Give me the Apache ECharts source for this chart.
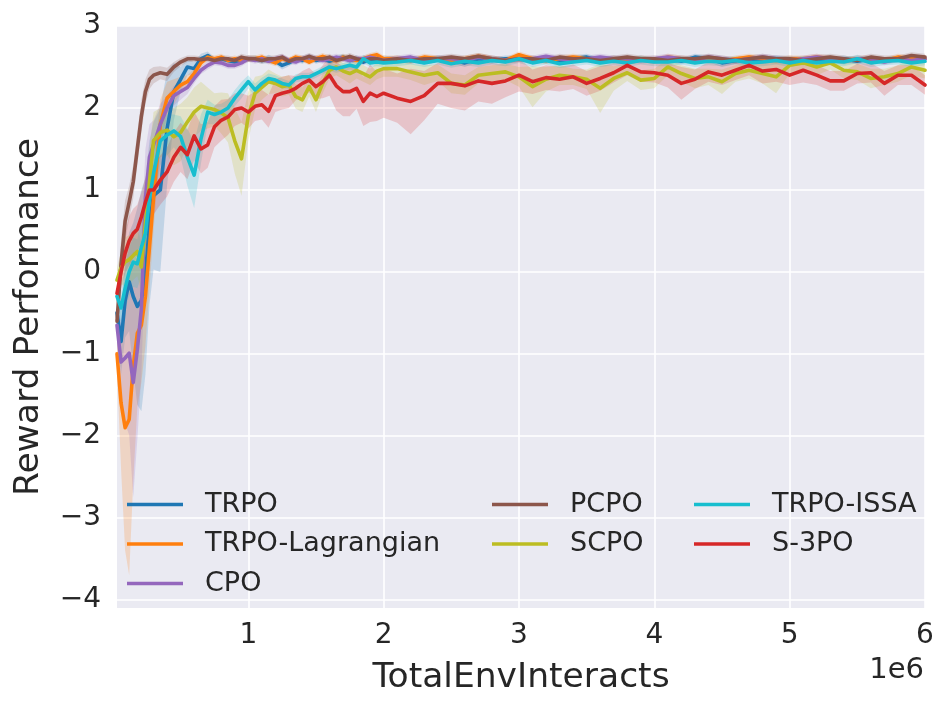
<!DOCTYPE html>
<html>
<head>
<meta charset="utf-8">
<script src="https://cdn.jsdelivr.net/npm/echarts@6.0.0/dist/echarts.min.js"></script>
<style>
html,body{margin:0;padding:0;background:#ffffff;}
#chart{width:950px;height:709px;}
</style>
</head>
<body>
<div id="chart"></div>
<script>
// x positions in units of 1e6 TotalEnvInteracts
var xs = [0.03,0.06,0.09,0.12,0.15,0.18,0.21,0.24,0.27,0.30,
  0.35,0.40,0.45,0.50,0.55,0.60,0.65,0.70,0.75,0.80,0.85,0.90,0.95,1.00,
  1.05,1.10,1.15,1.20,1.25,1.30,1.35,1.40,1.45,1.50,1.55,1.60,1.65,1.70,1.75,1.80,1.85,1.90,1.95,2.00,
  2.1,2.2,2.3,2.4,2.5,2.6,2.7,2.8,2.9,3.0,3.1,3.2,3.3,3.4,3.5,3.6,3.7,3.8,3.9,4.0,
  4.1,4.2,4.3,4.4,4.5,4.6,4.7,4.8,4.9,5.0,5.1,5.2,5.3,5.4,5.5,5.6,5.7,5.8,5.9,6.0];

var xTicks = [1,2,3,4,5,6];
var yTicks = [-4,-3,-2,-1,0,1,2,3];

var names = ['TRPO','TRPO-Lagrangian','CPO','PCPO','SCPO','TRPO-ISSA','S-3PO'];
var colors = ['#1f77b4','#ff7f0e','#9467bd','#8c564b','#bcbd22','#17becf','#d62728'];

var trpo = [-0.5,-0.85,-0.35,-0.12,-0.3,-0.42,-0.35,-0.05,0.6,0.93,
  1.0,1.75,2.2,2.35,2.5,2.48,2.6,2.64,2.58,2.6,2.58,2.56,2.58,2.6,
  2.6,2.58,2.6,2.57,2.52,2.55,2.6,2.58,2.62,2.58,2.6,2.57,2.6,2.62,2.58,2.6,2.56,2.6,2.58,2.6,
  2.58,2.6,2.57,2.6,2.59,2.55,2.6,2.58,2.6,2.6,2.58,2.6,2.57,2.6,2.62,2.58,2.6,2.57,2.6,2.58,
  2.6,2.57,2.62,2.6,2.55,2.58,2.6,2.58,2.6,2.59,2.56,2.6,2.58,2.6,2.57,2.6,2.58,2.6,2.58,2.6];
var trpoLag = [-1.0,-1.6,-1.9,-1.8,-1.15,-0.75,-0.65,-0.3,0.3,0.9,
  1.8,2.12,2.2,2.28,2.32,2.42,2.55,2.62,2.6,2.62,2.58,2.6,2.58,2.6,
  2.6,2.62,2.58,2.55,2.6,2.58,2.62,2.6,2.56,2.6,2.63,2.6,2.58,2.62,2.6,2.58,2.6,2.63,2.65,2.6,
  2.6,2.58,2.62,2.6,2.57,2.6,2.63,2.6,2.58,2.65,2.6,2.58,2.6,2.62,2.6,2.58,2.6,2.56,2.6,2.58,
  2.62,2.6,2.58,2.6,2.57,2.6,2.62,2.6,2.58,2.6,2.6,2.62,2.6,2.58,2.6,2.6,2.58,2.62,2.6,2.6];
var cpo = [-0.65,-1.1,-1.05,-0.99,-1.35,-0.95,-0.45,0.9,1.4,1.55,
  1.8,2.0,2.15,2.2,2.25,2.36,2.46,2.52,2.56,2.55,2.52,2.52,2.55,2.6,
  2.58,2.6,2.57,2.6,2.62,2.58,2.56,2.6,2.62,2.6,2.58,2.6,2.62,2.6,2.58,2.6,2.6,2.62,2.6,2.58,
  2.6,2.62,2.58,2.6,2.6,2.58,2.62,2.6,2.58,2.6,2.6,2.63,2.6,2.58,2.6,2.62,2.6,2.6,2.58,2.6,
  2.62,2.6,2.58,2.62,2.6,2.58,2.6,2.62,2.6,2.58,2.6,2.62,2.6,2.57,2.6,2.6,2.56,2.6,2.58,2.6];
var pcpo = [-0.6,0.1,0.62,0.85,1.1,1.5,1.9,2.2,2.35,2.4,
  2.43,2.41,2.5,2.56,2.6,2.6,2.59,2.6,2.58,2.6,2.6,2.58,2.62,2.6,
  2.6,2.58,2.6,2.6,2.62,2.57,2.6,2.6,2.63,2.6,2.6,2.62,2.58,2.6,2.63,2.6,2.58,2.6,2.6,2.58,
  2.6,2.58,2.6,2.6,2.62,2.6,2.63,2.6,2.58,2.6,2.6,2.58,2.62,2.6,2.6,2.58,2.6,2.62,2.6,2.6,
  2.58,2.6,2.6,2.62,2.6,2.58,2.6,2.62,2.6,2.6,2.58,2.6,2.62,2.6,2.58,2.62,2.6,2.6,2.64,2.62];
var scpo = [-0.1,0.05,0.12,0.15,0.2,0.25,0.06,0.6,1.1,1.6,
  1.7,1.73,1.65,1.7,1.83,1.95,2.02,2.0,1.98,1.94,1.88,1.6,1.38,1.9,
  2.18,2.25,2.32,2.3,2.26,2.28,2.14,2.1,2.26,2.1,2.3,2.46,2.5,2.45,2.42,2.46,2.42,2.38,2.45,2.48,
  2.48,2.44,2.4,2.43,2.3,2.28,2.4,2.42,2.44,2.38,2.26,2.35,2.4,2.38,2.35,2.24,2.36,2.43,2.34,2.36,
  2.5,2.42,2.36,2.38,2.32,2.42,2.46,2.42,2.38,2.52,2.55,2.5,2.55,2.46,2.44,2.36,2.38,2.42,2.5,2.46];
var issa = [-0.3,-0.44,-0.2,0.0,0.12,0.1,0.3,0.47,0.9,1.2,
  1.6,1.67,1.72,1.65,1.4,1.18,1.62,1.95,1.92,1.95,2.0,2.12,2.22,2.32,
  2.22,2.3,2.36,2.34,2.3,2.28,2.36,2.38,2.38,2.42,2.46,2.5,2.48,2.5,2.52,2.5,2.6,2.55,2.56,2.55,
  2.56,2.58,2.55,2.58,2.54,2.57,2.55,2.58,2.56,2.6,2.55,2.58,2.54,2.56,2.58,2.55,2.57,2.55,2.58,2.56,
  2.56,2.58,2.55,2.57,2.56,2.58,2.55,2.56,2.58,2.55,2.58,2.55,2.57,2.56,2.6,2.55,2.57,2.58,2.55,2.57];
var s3po = [-0.26,0.0,0.23,0.38,0.47,0.52,0.67,0.85,1.0,1.0,
  1.12,1.22,1.4,1.52,1.43,1.66,1.5,1.55,1.77,1.85,1.89,1.98,2.0,1.95,
  2.02,2.04,1.96,2.15,2.18,2.2,2.24,2.3,2.34,2.26,2.32,2.4,2.27,2.2,2.2,2.24,2.08,2.18,2.14,2.18,
  2.12,2.08,2.15,2.3,2.3,2.27,2.33,2.3,2.33,2.4,2.32,2.37,2.35,2.38,2.3,2.36,2.43,2.52,2.44,2.43,
  2.4,2.3,2.35,2.44,2.4,2.46,2.52,2.45,2.47,2.4,2.46,2.4,2.33,2.33,2.42,2.43,2.3,2.4,2.4,2.28];

// half-widths of the shaded bands
var sdTrpo = [0.3,0.4,0.45,0.6,0.9,1.2,1.35,1.2,1.0,0.9,
  1.0,0.7,0.35,0.15,0.1,0.08,0.06,0.05,0.04,0.04,0.04,0.04,0.04,0.04,
  0.04,0.04,0.05,0.04,0.05,0.04,0.04,0.04,0.04,0.04,0.04,0.04,0.04,0.04,0.04,0.04,0.04,0.04,0.04,0.04,
  0.04,0.04,0.04,0.04,0.04,0.05,0.04,0.04,0.04,0.04,0.04,0.04,0.04,0.04,0.04,0.04,0.04,0.04,0.04,0.04,
  0.04,0.04,0.04,0.04,0.05,0.04,0.04,0.04,0.04,0.04,0.04,0.04,0.04,0.04,0.04,0.04,0.04,0.04,0.04,0.04];
var sdLag = [0.2,0.8,1.5,1.9,1.4,0.9,0.7,0.6,0.5,0.4,
  0.3,0.2,0.15,0.1,0.08,0.06,0.05,0.04,0.04,0.04,0.04,0.04,0.04,0.04,
  0.04,0.04,0.04,0.04,0.04,0.04,0.04,0.04,0.04,0.04,0.04,0.04,0.04,0.04,0.04,0.04,0.04,0.04,0.04,0.04,
  0.04,0.04,0.04,0.04,0.04,0.04,0.04,0.04,0.04,0.04,0.04,0.04,0.04,0.04,0.04,0.04,0.04,0.04,0.04,0.04,
  0.04,0.04,0.04,0.04,0.04,0.04,0.04,0.04,0.04,0.04,0.04,0.04,0.04,0.04,0.04,0.04,0.04,0.04,0.04,0.04];
var sdCpo = [0.2,0.5,0.8,1.0,1.4,1.1,0.8,0.6,0.4,0.3,
  0.25,0.15,0.12,0.1,0.08,0.06,0.05,0.05,0.04,0.04,0.04,0.04,0.04,0.04,
  0.04,0.04,0.04,0.04,0.04,0.04,0.04,0.04,0.04,0.04,0.04,0.04,0.04,0.04,0.04,0.04,0.04,0.04,0.04,0.04,
  0.04,0.04,0.04,0.04,0.04,0.04,0.04,0.04,0.04,0.04,0.04,0.04,0.04,0.04,0.04,0.04,0.04,0.04,0.04,0.04,
  0.04,0.04,0.04,0.04,0.04,0.04,0.04,0.04,0.04,0.04,0.04,0.04,0.04,0.04,0.04,0.04,0.04,0.04,0.04,0.04];
var sdPcpo = [0.25,0.3,0.25,0.2,0.2,0.2,0.2,0.15,0.12,0.1,
  0.08,0.08,0.06,0.05,0.04,0.04,0.04,0.04,0.04,0.04,0.04,0.04,0.04,0.04,
  0.04,0.04,0.04,0.04,0.04,0.04,0.04,0.04,0.04,0.04,0.04,0.04,0.04,0.04,0.04,0.04,0.04,0.04,0.04,0.04,
  0.04,0.04,0.04,0.04,0.04,0.04,0.04,0.04,0.04,0.04,0.04,0.04,0.04,0.04,0.04,0.04,0.04,0.04,0.04,0.04,
  0.04,0.04,0.04,0.04,0.04,0.04,0.04,0.04,0.04,0.04,0.04,0.04,0.04,0.04,0.04,0.04,0.04,0.04,0.04,0.04];
var sdScpo = [0.15,0.2,0.3,0.3,0.3,0.3,0.3,0.4,0.4,0.35,
  0.3,0.3,0.35,0.35,0.3,0.3,0.3,0.25,0.2,0.25,0.3,0.4,0.45,0.3,
  0.2,0.15,0.15,0.12,0.12,0.12,0.15,0.15,0.12,0.15,0.12,0.1,0.1,0.1,0.12,0.1,0.1,0.1,0.1,0.1,
  0.1,0.1,0.12,0.1,0.12,0.12,0.1,0.1,0.1,0.12,0.25,0.15,0.12,0.1,0.12,0.3,0.15,0.1,0.12,0.12,
  0.1,0.1,0.12,0.1,0.15,0.1,0.1,0.12,0.2,0.1,0.08,0.1,0.08,0.1,0.1,0.12,0.1,0.1,0.1,0.1];
var sdIssa = [0.15,0.2,0.25,0.3,0.3,0.3,0.35,0.4,0.4,0.35,
  0.3,0.25,0.2,0.25,0.35,0.4,0.3,0.15,0.12,0.1,0.1,0.1,0.1,0.08,
  0.08,0.07,0.06,0.06,0.06,0.05,0.05,0.05,0.05,0.05,0.05,0.05,0.05,0.05,0.05,0.05,0.05,0.05,0.05,0.05,
  0.05,0.05,0.05,0.05,0.05,0.05,0.05,0.05,0.05,0.05,0.05,0.05,0.05,0.05,0.05,0.05,0.05,0.05,0.05,0.05,
  0.05,0.05,0.05,0.05,0.05,0.05,0.05,0.05,0.05,0.05,0.05,0.05,0.05,0.05,0.05,0.05,0.05,0.05,0.05,0.05];
var sdS3po = [0.15,0.2,0.25,0.3,0.3,0.3,0.3,0.3,0.3,0.3,
  0.3,0.3,0.3,0.3,0.3,0.3,0.3,0.28,0.25,0.25,0.22,0.2,0.18,0.2,
  0.18,0.18,0.2,0.2,0.2,0.2,0.15,0.15,0.15,0.15,0.2,0.25,0.3,0.3,0.3,0.25,0.3,0.35,0.3,0.3,
  0.3,0.4,0.3,0.25,0.3,0.3,0.25,0.25,0.2,0.2,0.15,0.15,0.15,0.15,0.15,0.15,0.12,0.12,0.12,0.12,
  0.15,0.2,0.12,0.12,0.12,0.12,0.12,0.15,0.15,0.12,0.15,0.12,0.12,0.12,0.12,0.12,0.15,0.12,0.12,0.12];

var means = [trpo, trpoLag, cpo, pcpo, scpo, issa, s3po];
var spreads = [sdTrpo, sdLag, sdCpo, sdPcpo, sdScpo, sdIssa, sdS3po];

var FONT = 'DejaVu Sans';
var TXT = '#262626';

function hexToRgba(hex, a) {
  var r = parseInt(hex.slice(1,3),16), g = parseInt(hex.slice(3,5),16), b = parseInt(hex.slice(5,7),16);
  return 'rgba(' + r + ',' + g + ',' + b + ',' + a + ')';
}

function bandSeries(idx) {
  var mean = means[idx], sd = spreads[idx];
  return {
    type: 'custom',
    name: names[idx] + ' band',
    silent: true,
    z: 1,
    clip: true,
    data: [[xs[0], mean[0]]],
    renderItem: function (params, api) {
      var upper = [], lower = [];
      for (var i = 0; i < xs.length; i++) {
        upper.push(api.coord([xs[i], mean[i] + sd[i]]));
        lower.push(api.coord([xs[i], mean[i] - sd[i]]));
      }
      var pts = upper.concat(lower.reverse());
      return {
        type: 'polygon',
        shape: { points: pts },
        style: { fill: hexToRgba(colors[idx], 0.2), stroke: null }
      };
    }
  };
}

function lineSeries(idx) {
  return {
    type: 'line',
    name: names[idx],
    z: 2,
    color: colors[idx],
    showSymbol: false,
    symbol: 'none',
    lineStyle: { width: 3.6, color: colors[idx], join: 'round', cap: 'round' },
    itemStyle: { color: colors[idx] },
    data: xs.map(function (x, i) { return [x, means[idx][i]]; })
  };
}

var series = [];
for (var k = 0; k < names.length; k++) series.push(bandSeries(k));
for (var k2 = 0; k2 < names.length; k2++) series.push(lineSeries(k2));

function legendCol(items, left) {
  return {
    data: items,
    orient: 'vertical',
    left: left,
    top: 486,
    icon: 'rect',
    itemWidth: 56,
    itemHeight: 3.5,
    itemGap: 12.5,
    selectedMode: false,
    backgroundColor: 'transparent',
    textStyle: { fontFamily: FONT, fontSize: 27, lineHeight: 27, color: TXT, padding: [0, 0, 0, 17] }
  };
}

var chart = echarts.init(document.getElementById('chart'), null, { renderer: 'canvas' });
chart.setOption({
  animation: false,
  backgroundColor: '#ffffff',
  grid: { left: 117, right: 25, top: 26, bottom: 101, show: true, backgroundColor: '#EAEAF2', borderWidth: 0 },
  xAxis: {
    type: 'value', min: 0.03, max: 6, splitNumber: 6, minInterval: 1, maxInterval: 1,
    axisLine: { show: false }, axisTick: { show: false },
    splitLine: { show: true, showMinLine: false, lineStyle: { color: '#ffffff', width: 1.6 } },
    axisLabel: {
      fontFamily: FONT, fontSize: 28, color: TXT, margin: 14, showMinLabel: false,
      formatter: function (v) { return xTicks.indexOf(v) >= 0 ? String(v) : ''; }
    },
    name: 'TotalEnvInteracts', nameLocation: 'middle', nameGap: 53,
    nameTextStyle: { fontFamily: FONT, fontSize: 34.5, color: TXT }
  },
  yAxis: {
    type: 'value', min: -4.1, max: 3, splitNumber: 7, minInterval: 1, maxInterval: 1,
    axisLine: { show: false }, axisTick: { show: false },
    splitLine: { show: true, showMinLine: false, lineStyle: { color: '#ffffff', width: 1.6 } },
    axisLabel: {
      fontFamily: FONT, fontSize: 28, color: TXT, margin: 16, showMinLabel: false,
      formatter: function (v) { return yTicks.indexOf(v) >= 0 ? String(v).replace('-', '\u2212') : ''; }
    },
    name: 'Reward Performance', nameLocation: 'middle', nameGap: 70,
    nameTextStyle: { fontFamily: FONT, fontSize: 34.5, color: TXT }
  },
  legend: [
    legendCol(['TRPO', 'TRPO-Lagrangian', 'CPO'], 122),
    legendCol(['PCPO', 'SCPO'], 487),
    legendCol(['TRPO-ISSA', 'S-3PO'], 689)
  ],
  graphic: [{
    type: 'text', right: 26, top: 656,
    style: { text: '1e6', font: '29px "DejaVu Sans"', fill: TXT }
  }],
  series: series
});
</script>
</body>
</html>
